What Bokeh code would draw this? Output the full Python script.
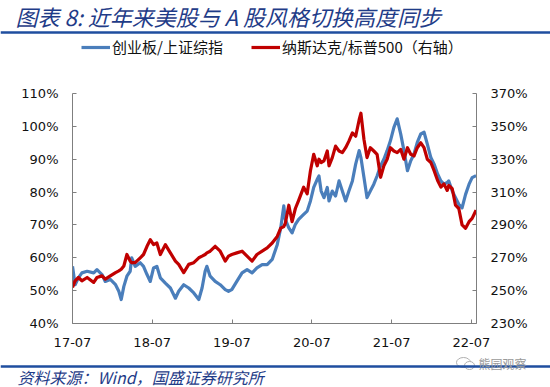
from datetime import datetime
from bokeh.plotting import figure
from bokeh.layouts import column, row
from bokeh.models import (Range1d, LinearAxis, FixedTicker, PrintfTickFormatter,
                          DatetimeTickFormatter, Legend, LegendItem, Label, Span)
from bokeh.embed import file_html
from bokeh.resources import INLINE

# ---------------- data ----------------
dates = [
    "2017-07-01", "2017-07-13", "2017-07-28", "2017-08-13", "2017-09-06", "2017-10-06", "2017-10-21",
    "2017-11-13", "2017-11-28", "2017-12-21", "2018-01-14", "2018-01-29", "2018-02-09", "2018-02-21",
    "2018-03-07", "2018-03-22", "2018-03-29", "2018-04-14", "2018-05-07", "2018-05-22", "2018-06-07",
    "2018-06-22", "2018-07-07", "2018-07-22", "2018-08-07", "2018-08-30", "2018-09-22", "2018-10-15",
    "2018-10-30", "2018-11-22", "2018-12-15", "2019-01-07", "2019-01-30", "2019-02-14", "2019-02-28",
    "2019-03-08", "2019-03-23", "2019-04-15", "2019-05-08", "2019-05-31", "2019-06-15", "2019-06-30",
    "2019-07-23", "2019-08-16", "2019-09-08", "2019-10-01", "2019-10-23", "2019-11-16",
    "2019-12-09", "2020-01-01", "2020-01-24", "2020-02-09", "2020-02-23", "2020-03-01", "2020-03-17",
    "2020-04-01", "2020-04-16", "2020-05-01", "2020-05-24", "2020-06-09", "2020-06-24", "2020-07-09",
    "2020-07-25", "2020-08-02", "2020-08-12", "2020-08-25", "2020-09-09", "2020-09-17", "2020-10-02",
    "2020-10-17", "2020-11-02", "2020-11-17", "2020-12-02", "2020-12-17", "2021-01-02", "2021-01-17",
    "2021-02-02", "2021-02-10", "2021-02-24", "2021-03-10", "2021-03-25", "2021-04-10", "2021-04-25",
    "2021-05-11", "2021-05-26", "2021-06-10", "2021-06-25", "2021-07-11", "2021-07-26", "2021-08-11",
    "2021-08-26", "2021-09-11", "2021-09-26", "2021-10-11", "2021-10-26", "2021-11-11", "2021-11-26",
    "2021-12-11", "2021-12-27", "2022-01-11", "2022-01-27", "2022-02-11", "2022-02-25", "2022-03-12",
    "2022-03-19", "2022-04-04", "2022-04-19", "2022-05-04", "2022-05-19", "2022-06-04", "2022-06-20",
    "2022-07-04", "2022-07-22",
]

# 创业板/上证综指 (left axis, %)
chinext_sse = [
    57.4, 51.8, 53.9, 55.4, 55.9, 55.4, 56.4, 54.9, 52.8, 53.4, 51.8, 49.8, 47.3, 51.3,
    54.4, 55.9, 60.0, 57.4, 58.5, 57.4, 54.9, 52.8, 56.9, 57.4, 53.9, 52.3, 50.8, 47.7,
    49.8, 51.8, 50.8, 49.3, 47.3, 50.8, 55.9, 57.4, 54.4, 52.8, 51.8, 50.3, 49.8, 50.3,
    52.8, 55.4, 56.4, 55.4, 56.9, 57.9,
    57.9, 59.5, 64.0, 69.1, 75.8, 71.7, 69.1, 67.6, 70.2, 71.7, 73.2, 74.2, 77.3, 81.4,
    83.9, 84.9, 80.3, 78.3, 81.4, 77.3, 80.3, 78.8, 83.4, 80.3, 77.3, 80.3, 83.4, 88.5,
    92.6, 90.5, 84.4, 78.3, 80.3, 82.4, 84.9, 88.0, 90.0, 92.6, 95.6, 99.7, 102.3, 97.7,
    92.6, 86.5, 89.5, 91.6, 95.1, 97.7, 98.2, 94.6, 90.5, 88.5, 85.5, 83.4, 82.4, 82.9,
    83.4, 80.3, 78.3, 76.3, 75.2, 79.3, 82.4, 84.4, 85.0,
]

# 纳斯达克/标普500 (right axis, %)
nasdaq_spx = [
    252, 256, 258, 256, 258, 255, 258, 259, 257, 259, 261, 262, 263, 265,
    272, 268, 267, 267, 270, 272, 277, 281, 278, 279, 272, 278, 273, 268,
    266, 261, 266, 267, 270, 271, 272, 273, 274, 277, 274, 268, 271, 272,
    273, 274, 271, 268, 272, 274,
    276, 279, 283, 288, 289, 291, 302, 292, 300, 305, 313, 309, 323, 333,
    326, 330, 328, 329, 335, 326, 331, 338, 335, 334, 337, 341, 346, 344,
    354, 358, 342, 331, 337, 335, 333, 319, 326, 330, 337, 335, 334, 336,
    330, 337, 333, 332, 337, 340, 337, 330, 328, 323, 317, 313, 315, 311,
    314, 312, 302, 300, 290, 288, 292, 294, 299,
]

left_ticks = [40, 50, 60, 70, 80, 90, 100, 110]
right_ticks = [230, 250, 270, 290, 310, 330, 350, 370]
x_tick_dates = ["2017-07-01", "2018-07-01", "2019-07-01", "2020-07-01", "2021-07-01", "2022-07-01"]
x_start, x_end = "2017-07-01", "2022-07-24"

series_names = ["创业板/上证综指", "纳斯达克/标普500（右轴）"]
title_text = "图表 8:  近年来美股与 A 股风格切换高度同步"
source_text = "资料来源：Wind，国盛证券研究所"
watermark_text = "熊园观察"

# ---------------- styling ----------------
BLUE = "#4A7EBB"
RED = "#C00000"
NAVY = "#1F3C88"
RULE = "#1F4E9F"
AXIS = "#7F7F7F"
TICK_FONT = "DejaVu Sans"
CJK = "Noto Sans CJK SC"
W = 550


def to_dt(s):
    return datetime.strptime(s, "%Y-%m-%d")


def bare(fig):
    fig.grid.visible = False
    fig.outline_line_color = None
    fig.background_fill_color = "white"
    fig.border_fill_color = "white"
    return fig


# ---------------- header: title, rule, legend ----------------
HEAD_H = 80
head = bare(figure(width=W, height=HEAD_H, output_backend="svg", toolbar_location=None,
                   x_range=Range1d(0, W), y_range=Range1d(HEAD_H, 0),
                   x_axis_type=None, y_axis_type=None,
                   min_border_left=0, min_border_right=0, min_border_top=0, min_border_bottom=0))
head.add_layout(Label(x=15, y=15, text=title_text, text_font=CJK, text_font_size="22px",
                      text_font_style="italic", text_color=NAVY, text_baseline="middle"))
head.add_layout(Span(location=32, dimension="width", line_color=RULE, line_width=2.5))
d_blue = head.line([-20, -10], [-20, -20], line_color=BLUE, line_width=3.2)
d_red = head.line([-20, -10], [-20, -20], line_color=RED, line_width=3.2)
legend = Legend(items=[LegendItem(label=series_names[0], renderers=[d_blue]),
                       LegendItem(label=series_names[1], renderers=[d_red])],
                location=(81, HEAD_H - 57), orientation="horizontal",
                glyph_width=29, glyph_height=18, label_standoff=2, spacing=28,
                padding=0, margin=0, border_line_color=None, background_fill_alpha=0,
                label_text_font=CJK, label_text_font_size="15px", label_text_color="#111111")
head.add_layout(legend, "center")

# ---------------- main chart ----------------
MAIN_H = 275
xs = [to_dt(d) for d in dates]
p = bare(figure(width=W, height=MAIN_H, output_backend="svg", toolbar_location=None,
                x_axis_type="datetime",
                x_range=Range1d(to_dt(x_start), to_dt(x_end)),
                y_range=Range1d(left_ticks[0], left_ticks[-1]),
                min_border_left=72, min_border_right=74, min_border_top=13, min_border_bottom=32))
p.extra_y_ranges = {"right": Range1d(right_ticks[0], right_ticks[-1])}

p.line(xs, chinext_sse, line_color=BLUE, line_width=3.2, line_join="round")
p.line(xs, nasdaq_spx, line_color=RED, line_width=3.2, line_join="round", y_range_name="right")

right_axis = LinearAxis(y_range_name="right")
p.add_layout(right_axis, "right")

ms = [to_dt(d).timestamp() * 1000 for d in x_tick_dates]
p.xaxis.ticker = FixedTicker(ticks=ms)
fmt = "%y-%m"
p.xaxis.formatter = DatetimeTickFormatter(years=fmt, months=fmt, days=fmt, hours=fmt,
                                          minutes=fmt, seconds=fmt, milliseconds=fmt,
                                          microseconds=fmt, hourmin=fmt, minsec=fmt)
p.yaxis[0].ticker = FixedTicker(ticks=left_ticks)
right_axis.ticker = FixedTicker(ticks=right_ticks)
for ax in p.yaxis:
    ax.formatter = PrintfTickFormatter(format="%d%%")

for ax in list(p.xaxis) + list(p.yaxis):
    ax.axis_line_color = AXIS
    ax.axis_line_width = 1
    ax.major_tick_line_color = AXIS
    ax.major_tick_in = 4
    ax.major_tick_out = 0
    ax.minor_tick_line_color = None
    ax.major_label_text_font = TICK_FONT
    ax.major_label_text_font_size = "13px"
    ax.major_label_text_color = "#111111"
    ax.major_label_standoff = 14

# ---------------- footer: rule, source, watermark ----------------
FOOT_H = 387 - HEAD_H - MAIN_H
foot = bare(figure(width=W, height=FOOT_H, output_backend="svg", toolbar_location=None,
                   x_range=Range1d(0, W), y_range=Range1d(FOOT_H, 0),
                   x_axis_type=None, y_axis_type=None,
                   min_border_left=0, min_border_right=0, min_border_top=0, min_border_bottom=0))
foot.add_layout(Span(location=11, dimension="width", line_color=RULE, line_width=2.5))
foot.ellipse(x=[463, 469], y=[7, 10], width=[14, 10], height=[10, 8],
             fill_color="white", line_color="#B0B0B0", line_width=1)
foot.add_layout(Label(x=478, y=8, text=watermark_text, text_font=CJK, text_font_size="12px",
                      text_color="#9A9A9A", text_baseline="middle"))
foot.add_layout(Label(x=17, y=21, text=source_text, text_font=CJK, text_font_size="16px",
                      text_font_style="italic", text_color=NAVY, text_baseline="middle"))

# wrap header and footer in their own rows so their frames are not aligned with the chart's
layout = column(row(head), p, row(foot), spacing=0)
open("out.html", "w").write(file_html(layout, INLINE))
